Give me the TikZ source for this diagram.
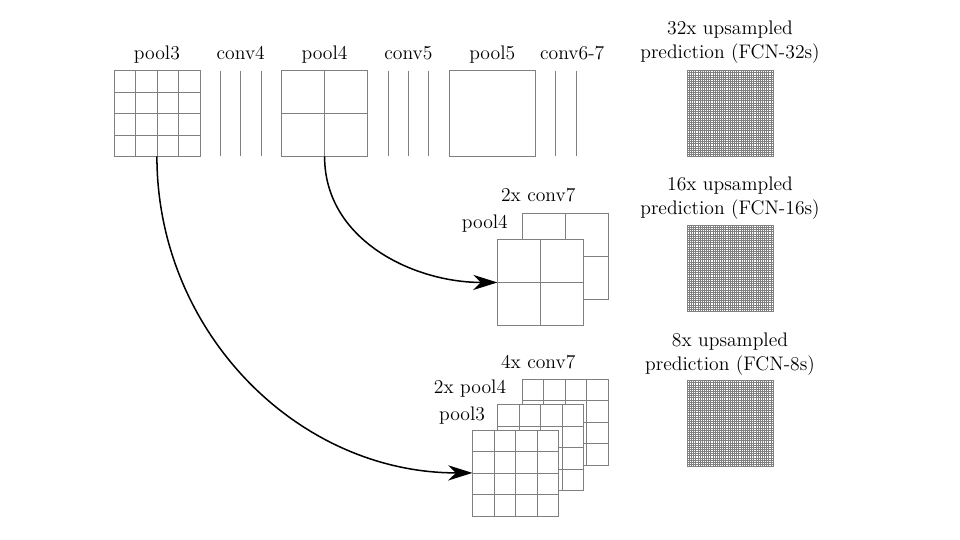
\documentclass[tikz,border=0pt]{standalone}
\usepackage{fontspec}
\usepackage{tikz}
\usetikzlibrary{positioning,arrows.meta}

\begin{document}
\begin{tikzpicture}[node distance=1.9cm,
    font=\fontsize{13}{16}\selectfont,
    fmap/.style={rectangle, draw=gray, minimum size=2cm, inner sep=0pt, outer sep=0pt, fill=white},
    gridln/.style={draw=gray, line width=0.5pt},
    fineln/.style={draw=gray, line width=0.3pt},
    convln/.style={draw=gray, line width=0.6pt},
    lbl/.style={inner sep=0pt},
    arr/.style={-{Stealth[length=16pt,width=10pt,inset=5pt]}, line width=1pt, black}]
    \useasboundingbox (0,0) rectangle (22.33,-12.56);

    % top row
    \node[fmap] (pool3) at (3.65,-2.64) {};
    \node[fmap, right=of pool3] (pool4) {};
    \node[fmap, right=of pool4] (pool5) {};
    \draw[gridln, shift={(pool3.south west)}] (0,0) grid[step=0.5] (2,2);
    \draw[gridln, shift={(pool4.south west)}] (0,0) grid[step=1] (2,2);
    \draw[convln] ([xshift=0.475cm]pool3.north east) -- ([xshift=0.475cm]pool3.south east);
    \draw[convln] ([xshift=0.95cm]pool3.north east) -- ([xshift=0.95cm]pool3.south east);
    \draw[convln] ([xshift=1.425cm]pool3.north east) -- ([xshift=1.425cm]pool3.south east);
    \draw[convln] ([xshift=0.475cm]pool4.north east) -- ([xshift=0.475cm]pool4.south east);
    \draw[convln] ([xshift=0.95cm]pool4.north east) -- ([xshift=0.95cm]pool4.south east);
    \draw[convln] ([xshift=1.425cm]pool4.north east) -- ([xshift=1.425cm]pool4.south east);
    \draw[convln] ([xshift=0.475cm]pool5.north east) -- ([xshift=0.475cm]pool5.south east);
    \draw[convln] ([xshift=0.95cm]pool5.north east) -- ([xshift=0.95cm]pool5.south east);

    \node[lbl, anchor=base] (lpool3) at ([yshift=0.26cm]pool3.north) {pool3};
    \node[lbl, anchor=base] (lconv4) at ([xshift=0.95cm, yshift=0.26cm]pool3.north east) {conv4};
    \node[lbl, anchor=base] (lpool4) at ([yshift=0.26cm]pool4.north) {pool4};
    \node[lbl, anchor=base] (lconv5) at ([xshift=0.95cm, yshift=0.26cm]pool4.north east) {conv5};
    \node[lbl, anchor=base] (lpool5) at ([yshift=0.26cm]pool5.north) {pool5};
    \node[lbl, anchor=base] (lconv67) at ([xshift=0.86cm, yshift=0.26cm]pool5.north east) {conv6-7};

    % upsampled predictions
    \node[fmap] (up32) at (16.98,-2.64) {};
    \node[fmap] (up16) at (16.98,-6.24) {};
    \node[fmap] (up8) at (16.98,-9.85) {};
    \draw[fineln, shift={(up32.south west)}] (0,0) grid[step=0.05] (2,2);
    \draw[fineln, shift={(up16.south west)}] (0,0) grid[step=0.05] (2,2);
    \draw[fineln, shift={(up8.south west)}] (0,0) grid[step=0.05] (2,2);
    \node[lbl, align=center, above=0.15cm of up32] (lup32) {32x upsampled\\prediction (FCN-32s)};
    \node[lbl, align=center, above=0.13cm of up16] (lup16) {16x upsampled\\prediction (FCN-16s)};
    \node[lbl, align=center, above=0.11cm of up8] (lup8) {8x upsampled\\prediction (FCN-8s)};

    % FCN-16s fusion
    \node[fmap] (c7a) at (13.15,-5.97) {};
    \draw[gridln, shift={(c7a.south west)}] (0,0) grid[step=1] (2,2);
    \node[fmap] (p4a) at (12.57,-6.57) {};
    \draw[gridln, shift={(p4a.south west)}] (0,0) grid[step=1] (2,2);
    \node[lbl, anchor=base] (lc7a) at ([xshift=0.37cm, yshift=0.28cm]c7a.north west) {2x conv7};
    \node[lbl, anchor=base east] (lp4a) at ([xshift=-0.33cm, yshift=-0.34cm]c7a.north west) {pool4};

    % FCN-8s fusion
    \node[fmap] (c7b) at (13.15,-9.82) {};
    \draw[gridln, shift={(c7b.south west)}] (0,0) grid[step=0.5] (2,2);
    \node[fmap] (p4b) at (12.57,-10.41) {};
    \draw[gridln, shift={(p4b.south west)}] (0,0) grid[step=0.5] (2,2);
    \node[fmap] (p3b) at (11.99,-11.0) {};
    \draw[gridln, shift={(p3b.south west)}] (0,0) grid[step=0.5] (2,2);
    \node[lbl, anchor=base] (lc7b) at ([xshift=0.37cm, yshift=0.26cm]c7b.north west) {4x conv7};
    \node[lbl, anchor=base east] (lp4b) at ([xshift=-0.37cm, yshift=-0.33cm]c7b.north west) {2x pool4};
    \node[lbl, anchor=base east] (lp3b) at ([xshift=-0.28cm, yshift=-0.37cm]p4b.north west) {pool3};

    \draw[arr] (pool4.south) to[out=-90, in=180] (p4a.west);
    \draw[arr] (pool3.south) to[out=-90, in=180] (p3b.west);
\end{tikzpicture}
\end{document}
